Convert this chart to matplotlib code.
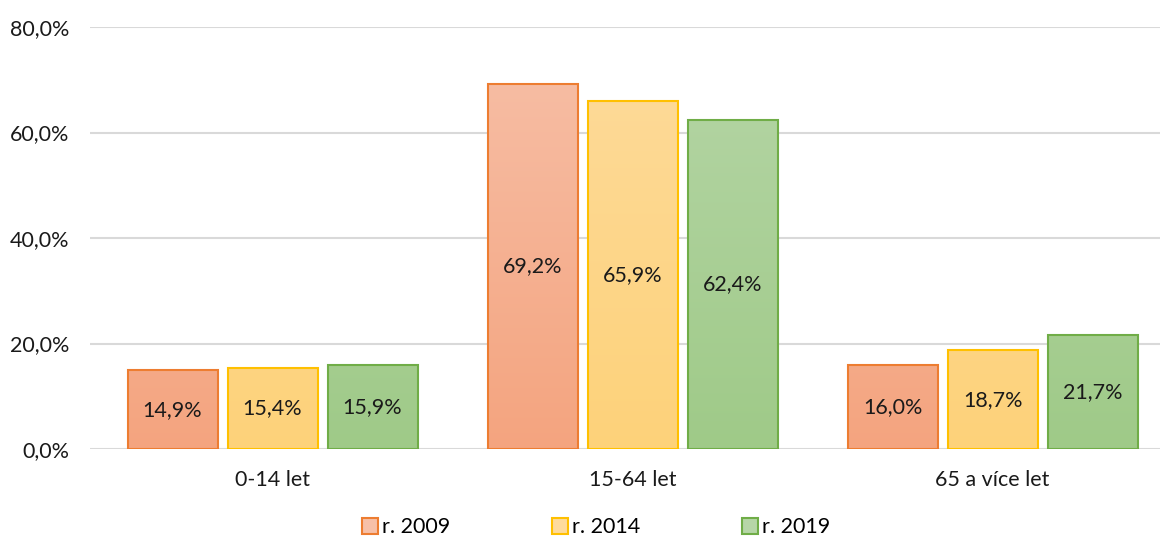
import numpy as np
import matplotlib
matplotlib.use('Agg')
import matplotlib.pyplot as plt
from matplotlib.colors import LinearSegmentedColormap
from matplotlib.patches import Patch

categories = ['0-14 let', '15-64 let', '65 a více let']
series_names = ['r. 2009', 'r. 2014', 'r. 2019']
values_2009 = [14.9, 69.2, 16.0]
values_2014 = [15.4, 65.9, 18.7]
values_2019 = [15.9, 62.4, 21.7]
y_ticks = [0, 20, 40, 60, 80]

series = [values_2009, values_2014, values_2019]
edge_colors = ['#ED7D31', '#FFC000', '#70AD47']
top_colors = ['#F7C0A8', '#FEDB9C', '#B6D6A7']
bottom_colors = ['#F4A47F', '#FDD27A', '#9FCA88']

plt.rcParams['font.family'] = ['Lato', 'DejaVu Sans']

fig = plt.figure(figsize=(11.62, 5.38), dpi=100)
ax = fig.add_axes([90 / 1162, 1 - 449 / 538, 1070 / 1162, 422 / 538])

x = np.arange(len(categories))
step = 100 / 360
width = 90 / 360

# bars with vertical gradient fill
for i, vals in enumerate(series):
    pos = x + (i - 1) * step
    bars = ax.bar(pos, vals, width, color='none', edgecolor=edge_colors[i],
                  linewidth=1.5, zorder=3)
    cmap = LinearSegmentedColormap.from_list('g%d' % i, [bottom_colors[i], top_colors[i]])
    grad = np.linspace(0, 1, 256).reshape(-1, 1)
    for b, v in zip(bars, vals):
        bx = b.get_x()
        im = ax.imshow(grad, cmap=cmap, origin='lower', aspect='auto',
                       extent=[bx, bx + b.get_width(), 0, 80], zorder=2)
        im.set_clip_path(b)
        ax.text(bx + b.get_width() / 2, v / 2,
                ('%.1f%%' % v).replace('.', ','), ha='center', va='center',
                fontsize=15.5, color='#1a1a1a', zorder=4)

ax.set_xlim(-0.507, 2.465)
ax.set_ylim(0, 80)
ax.set_yticks(y_ticks)
ax.set_yticklabels([('%.1f%%' % t).replace('.', ',') for t in y_ticks])
ax.set_xticks(x)
ax.set_xticklabels(categories)
ax.tick_params(axis='both', length=0, labelsize=15.5, colors='#1a1a1a')
ax.tick_params(axis='y', pad=15)
ax.tick_params(axis='x', pad=15)
ax.grid(axis='y', color='#D9D9D9', linewidth=1.5, zorder=0)
ax.set_axisbelow(True)
for s in ax.spines.values():
    s.set_visible(False)

handles = [Patch(facecolor=top_colors[i], edgecolor=edge_colors[i], linewidth=1.5)
           for i in range(3)]
fig.legend(handles, series_names, loc='lower center', ncol=3, frameon=False,
           fontsize=15.5, bbox_to_anchor=(0.513, -0.035), columnspacing=4.7,
           handlelength=0.75, handleheight=0.75, handletextpad=0.2)

fig.savefig('out.png', dpi=100)
